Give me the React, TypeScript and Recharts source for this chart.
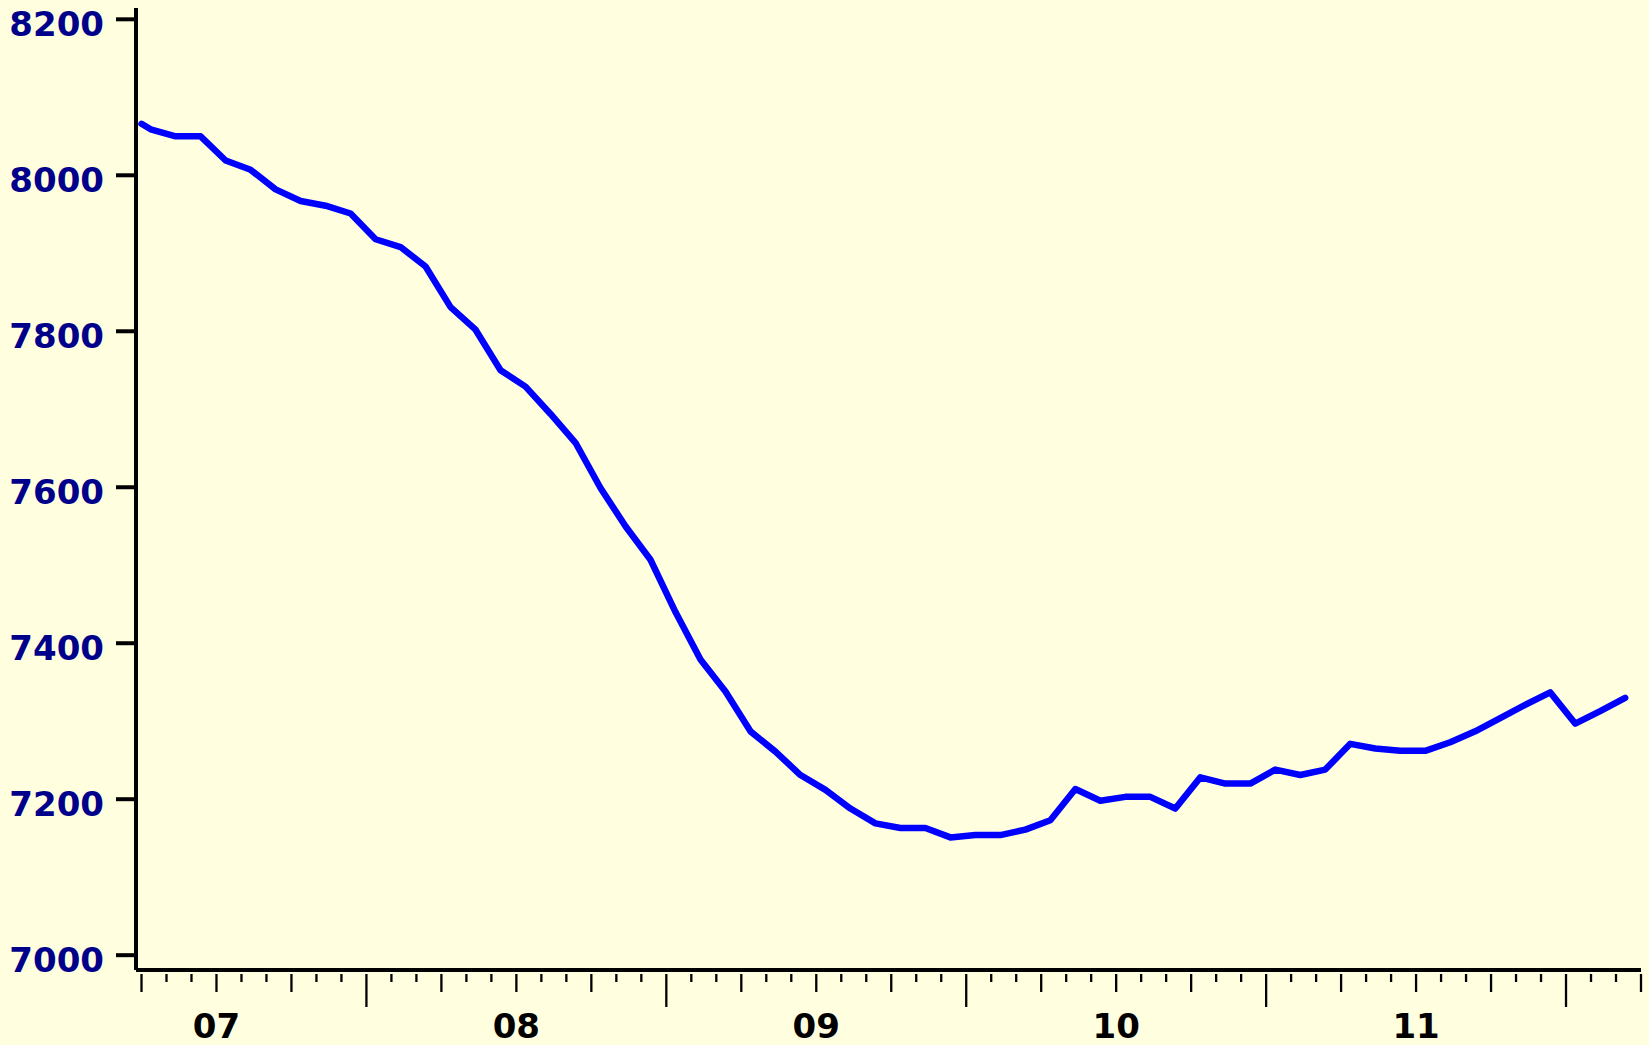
import React from "react";
import { LineChart, Line, XAxis, YAxis } from "recharts";

// sample dates (first point is the start of the series)
const sampleDates = [
  "2007-04-01", "2007-04-12", "2007-05-12", "2007-06-12", "2007-07-12", "2007-08-12", "2007-09-12", "2007-10-12", "2007-11-12", "2007-12-12",
  "2008-01-12", "2008-02-12", "2008-03-12", "2008-04-12", "2008-05-12", "2008-06-12", "2008-07-12", "2008-08-12", "2008-09-12", "2008-10-12", "2008-11-12", "2008-12-12",
  "2009-01-12", "2009-02-12", "2009-03-12", "2009-04-12", "2009-05-12", "2009-06-12", "2009-07-12", "2009-08-12", "2009-09-12", "2009-10-12", "2009-11-12", "2009-12-12",
  "2010-01-12", "2010-02-12", "2010-03-12", "2010-04-12", "2010-05-12", "2010-06-12", "2010-07-12", "2010-08-12", "2010-09-12", "2010-10-12", "2010-11-12", "2010-12-12",
  "2011-01-12", "2011-02-12", "2011-03-12", "2011-04-12", "2011-05-12", "2011-06-12", "2011-07-12", "2011-08-12", "2011-09-12", "2011-10-12", "2011-11-12", "2011-12-12",
  "2012-01-12", "2012-02-12", "2012-03-12",
];

const seriesValues = [
  8066, 8059, 8050, 8050, 8019, 8007, 7982, 7967, 7961, 7951,
  7918, 7908, 7883, 7831, 7802, 7750, 7729, 7694, 7657, 7599, 7550, 7507,
  7440, 7379, 7338, 7287, 7261, 7231, 7212, 7188, 7169, 7163, 7163, 7151,
  7154, 7154, 7161, 7173, 7213, 7198, 7203, 7203, 7188, 7228, 7220, 7220,
  7238, 7231, 7238, 7271, 7265, 7262, 7262, 7273, 7287, 7304, 7321, 7337,
  7297, 7313, 7330,
];

const yearLabels = ["07", "08", "09", "10", "11"];
const yTicks = [7000, 7200, 7400, 7600, 7800, 8000, 8200];

const BASE_YEAR = 2007;
const FONT = "'DejaVu Sans', sans-serif";

// months since Jan of BASE_YEAR, fractional by day
function toMonth(d: string) {
  const [y, m, day] = d.split("-").map(Number);
  return (y - BASE_YEAR) * 12 + (m - 1) + (day - 1) / 30;
}

const data = sampleDates.map((d, i) => ({ t: toMonth(d), value: seriesValues[i] }));

// month boundary ticks, Apr 2007 .. Apr 2012
const monthTicks: number[] = [];
for (let m = 3; m <= 63; m++) monthTicks.push(m);

function XTick(props: any) {
  const { x, y, payload } = props;
  const m = payload.value as number;
  const len = m % 12 === 0 ? 33 : m % 3 === 0 ? 18 : 8;
  const label = m % 12 === 6 ? yearLabels[(m - 6) / 12] : null;
  return (
    <g>
      <line x1={x} x2={x} y1={y + 4} y2={y + 4 + len} stroke="#000" strokeWidth={2.3} />
      {label && (
        <text x={x} y={y + 68} textAnchor="middle" fontFamily={FONT} fontWeight="bold" fontSize={34} fill="#000">
          {label}
        </text>
      )}
    </g>
  );
}

function YTick(props: any) {
  const { x, y, payload } = props;
  return (
    <text x={x} y={y + 17} textAnchor="end" fontFamily={FONT} fontWeight="bold" fontSize={34} fill="#00008B">
      {payload.value}
    </text>
  );
}

export default function App() {
  return (
    <div style={{ position: "absolute", left: 0, top: 0, width: 1649, height: 1045, background: "#FFFFE0" }}>
      <LineChart width={1649} height={1045} data={data} margin={{ top: 8, right: 8, bottom: 0, left: 0 }}>
        <XAxis
          dataKey="t"
          type="number"
          domain={[2.78, 63]}
          ticks={monthTicks}
          interval={0}
          height={75}
          tickLine={false}
          tickSize={0}
          tickMargin={0}
          axisLine={{ stroke: "#000", strokeWidth: 4 }}
          tick={<XTick />}
        />
        <YAxis
          type="number"
          domain={[6981, 8214.5]}
          ticks={yTicks}
          interval={0}
          width={136}
          tickSize={20}
          tickMargin={12}
          tickLine={{ stroke: "#000", strokeWidth: 4 }}
          axisLine={{ stroke: "#000", strokeWidth: 4 }}
          tick={<YTick />}
        />
        <Line
          type="linear"
          dataKey="value"
          stroke="#0000FF"
          strokeWidth={6.5}
          strokeLinecap="round"
          strokeLinejoin="round"
          dot={false}
          isAnimationActive={false}
        />
      </LineChart>
    </div>
  );
}
